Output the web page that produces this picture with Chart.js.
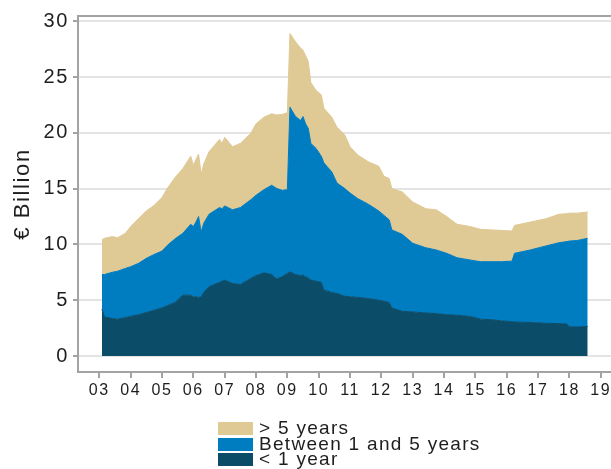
<!DOCTYPE html>
<html>
<head>
<meta charset="utf-8">
<script src="https://cdn.jsdelivr.net/npm/chart.js@4.4.1/dist/chart.umd.min.js"></script>
<style>
    html, body { margin: 0; padding: 0; background: #fff; }
    #wrap { position: relative; width: 611px; height: 469px; overflow: hidden; }
    #legend { font-family: 'Liberation Sans', Arial, sans-serif; font-size: 19px; letter-spacing: 1.3px; color: #1e1e1e; }
    .box { position: absolute; left: 218px; width: 35px; height: 13px; }
    .lbl { position: absolute; left: 259px; line-height: 18px; white-space: nowrap; }
</style>
</head>
<body>
<div id="wrap">
    <canvas id="chart"></canvas>
    <div id="legend"></div>
</div>
<script>
// month of observation (yyyy-mm)
const months = [
    '2003-02', '2003-03', '2003-06', '2003-08', '2003-11',
    '2004-01', '2004-04', '2004-07', '2004-10',
    '2005-01', '2005-03', '2005-06', '2005-09', '2005-12',
    '2006-01', '2006-02', '2006-03', '2006-04', '2006-05', '2006-07', '2006-11', '2006-12',
    '2007-01', '2007-04', '2007-07', '2007-11',
    '2008-01', '2008-04', '2008-07', '2008-09', '2008-11',
    '2009-01', '2009-02', '2009-04', '2009-06', '2009-07', '2009-08', '2009-09', '2009-10', '2009-12',
    '2010-02', '2010-03', '2010-06', '2010-08', '2010-11',
    '2011-01', '2011-04', '2011-08', '2011-12',
    '2012-02', '2012-04', '2012-05', '2012-09',
    '2013-01', '2013-06', '2013-10',
    '2014-02', '2014-06', '2014-11',
    '2015-03', '2015-07', '2015-11',
    '2016-03', '2016-04', '2016-10',
    '2017-04', '2017-09', '2017-12',
    '2018-01', '2018-04', '2018-08'
];

// € billion
const underOneYear = [
    4.2, 3.5, 3.35, 3.3, 3.45,
    3.55, 3.7, 3.9, 4.1,
    4.3, 4.5, 4.8, 5.45, 5.45,
    5.3, 5.3, 5.25, 5.3, 5.7, 6.2, 6.6, 6.7,
    6.8, 6.5, 6.4, 6.95,
    7.2, 7.45, 7.3, 6.9, 7.1,
    7.4, 7.55, 7.3, 7.2, 7.25, 7.1, 7.0, 6.8, 6.7,
    6.6, 5.9, 5.7, 5.6, 5.35,
    5.3, 5.25, 5.15, 5.0,
    4.9, 4.8, 4.3, 4.0,
    3.95, 3.85, 3.8,
    3.7, 3.65, 3.55,
    3.3, 3.25, 3.15,
    3.07, 3.05, 3.0,
    2.93, 2.9, 2.87,
    2.63, 2.6, 2.65
];

const oneToFiveYears = [
    3.1, 3.8, 4.15, 4.3, 4.4,
    4.45, 4.6, 4.85, 5.0,
    5.1, 5.4, 5.7, 5.55, 6.35,
    6.3, 6.7, 7.25, 5.8, 6.2, 6.5, 6.7, 6.5,
    6.65, 6.6, 6.9, 7.05,
    7.2, 7.45, 8.0, 8.1, 7.75,
    7.5, 14.75, 14.2, 13.9, 14.2, 13.7, 13.4, 12.25, 11.9,
    11.3, 11.4, 10.8, 9.9, 9.65,
    9.3, 8.85, 8.45, 8.0,
    7.7, 7.4, 7.0, 6.9,
    6.15, 5.85, 5.7,
    5.5, 5.15, 5.05,
    5.15, 5.2, 5.3,
    5.43, 6.15, 6.5,
    6.93, 7.25, 7.38,
    7.67, 7.75, 7.9
];

const overFiveYears = [
    3.1, 3.25, 3.2, 3.0, 3.15,
    3.6, 4.0, 4.25, 4.4,
    4.8, 5.1, 5.5, 5.8, 6.1,
    5.5, 5.6, 5.6, 5.2, 5.3, 5.6, 6.1, 5.85,
    6.15, 5.65, 5.75, 5.95,
    6.4, 6.5, 6.4, 6.6, 6.8,
    6.9, 6.6, 6.7, 6.5, 5.95, 6.1, 6.0, 5.45, 5.2,
    5.5, 4.9, 4.9, 5.0, 4.8,
    4.15, 3.9, 3.8, 4.0,
    3.5, 3.7, 3.7, 3.8,
    3.7, 3.5, 3.6,
    3.3, 3.0, 3.0,
    2.9, 2.85, 2.8,
    2.7, 2.5, 2.5,
    2.44, 2.55, 2.5,
    2.5, 2.45, 2.35
];

const tickYears = [2003, 2004, 2005, 2006, 2007, 2008, 2009, 2010, 2011, 2012, 2013, 2014, 2015, 2016, 2017, 2018, 2019];
const tickLabels = ['03', '04', '05', '06', '07', '08', '09', '10', '11', '12', '13', '14', '15', '16', '17', '18', '19'];
const valueTicks = [0, 5, 10, 15, 20, 25, 30];

function toYear(m) {
    const [y, mo] = m.split('-').map(Number);
    return y + (mo - 1) / 12;
};

function toPoints(values) {
    return values.map((v, i) => ({x: toYear(months[i]), y: v}));
};

const textColor = '#1e1e1e';
const axisColor = '#a3a3a3';
const fontFamily = "'Liberation Sans', Arial, sans-serif";

// the source text runs a bit wider than Arial
const wideText = {
    id: 'wideText',
    beforeDraw(chart) {
        chart.ctx.letterSpacing = '1.6px';
    }
};

const topBorder = {
    id: 'topBorder',
    afterDraw(chart) {
        const {ctx, chartArea} = chart;
        ctx.save();
        ctx.strokeStyle = axisColor;
        ctx.lineWidth = 2;
        ctx.beginPath();
        ctx.moveTo(chartArea.left - 1, chartArea.top);
        ctx.lineTo(chartArea.right, chartArea.top);
        ctx.stroke();
        ctx.restore();
    }
};

const ctx = document.getElementById('chart');
const areaChart = new Chart(ctx, {
    type: 'line',
    data: {
        datasets: [{
            label: '< 1 year',
            data: toPoints(underOneYear),
            fill: 'origin',
            backgroundColor: '#0b4d68',
            borderColor: '#0b4d68',
            borderWidth: 1
        }, {
            label: 'Between 1 and 5 years',
            data: toPoints(oneToFiveYears),
            fill: '-1',
            backgroundColor: '#007cc1',
            borderColor: '#007cc1',
            borderWidth: 1
        }, {
            label: '> 5 years',
            data: toPoints(overFiveYears),
            fill: '-1',
            backgroundColor: '#dfc994',
            borderColor: '#dfc994',
            borderWidth: 1
        }]
    },
    options: {
        responsive: true,
        maintainAspectRatio: false,
        animation: false,
        devicePixelRatio: 1,
        layout: {
            autoPadding: false,
            padding: {top: 16, right: 0, bottom: 60, left: 0}
        },
        elements: {
            point: {radius: 0},
            line: {tension: 0}
        },
        plugins: {
            legend: {display: false},
            tooltip: {enabled: false}
        },
        scales: {
            x: {
                type: 'linear',
                min: 2002.32,
                max: 2019.327,
                afterBuildTicks: (s) => { s.ticks = tickYears.map(v => ({value: v})); },
                afterFit: (s) => { s.height = 37; s.paddingLeft = 0; s.paddingRight = 0; },
                ticks: {
                    autoSkip: false,
                    maxRotation: 0,
                    padding: 3,
                    color: textColor,
                    font: {family: fontFamily, size: 16},
                    callback: (value, index) => tickLabels[index]
                },
                grid: {
                    drawOnChartArea: false,
                    drawTicks: true,
                    tickLength: 6,
                    tickColor: axisColor,
                    lineWidth: 2
                },
                border: {display: true, color: axisColor, width: 2}
            },
            y: {
                stacked: true,
                min: -1.434,
                max: 30.466,
                afterBuildTicks: (s) => { s.ticks = valueTicks.map(v => ({value: v})); },
                afterFit: (s) => { s.width = 78; s.paddingTop = 0; s.paddingBottom = 0; },
                ticks: {
                    padding: 4,
                    color: textColor,
                    font: {family: fontFamily, size: 20}
                },
                grid: {
                    color: '#e4e4e4',
                    lineWidth: 2,
                    drawTicks: true,
                    tickLength: 5,
                    tickColor: axisColor
                },
                border: {display: true, color: axisColor, width: 2},
                title: {
                    display: true,
                    text: '€ Billion',
                    color: textColor,
                    font: {family: fontFamily, size: 22},
                    padding: {top: 10, bottom: 0}
                }
            }
        }
    },
    plugins: [wideText, topBorder]
});

// legend, top to bottom as in the source figure
const legendRows = [
    {text: '> 5 years', color: '#dfc994', box: 422, label: 419},
    {text: 'Between 1 and 5 years', color: '#007cc1', box: 437.5, label: 434.5},
    {text: '< 1 year', color: '#0b4d68', box: 453, label: 450}
];
const legend = document.getElementById('legend');
legendRows.forEach((row) => {
    const box = document.createElement('div');
    box.className = 'box';
    box.style.top = row.box + 'px';
    box.style.background = row.color;
    legend.appendChild(box);
    const lbl = document.createElement('div');
    lbl.className = 'lbl';
    lbl.style.top = row.label + 'px';
    lbl.textContent = row.text;
    legend.appendChild(lbl);
});
</script>
</body>
</html>
